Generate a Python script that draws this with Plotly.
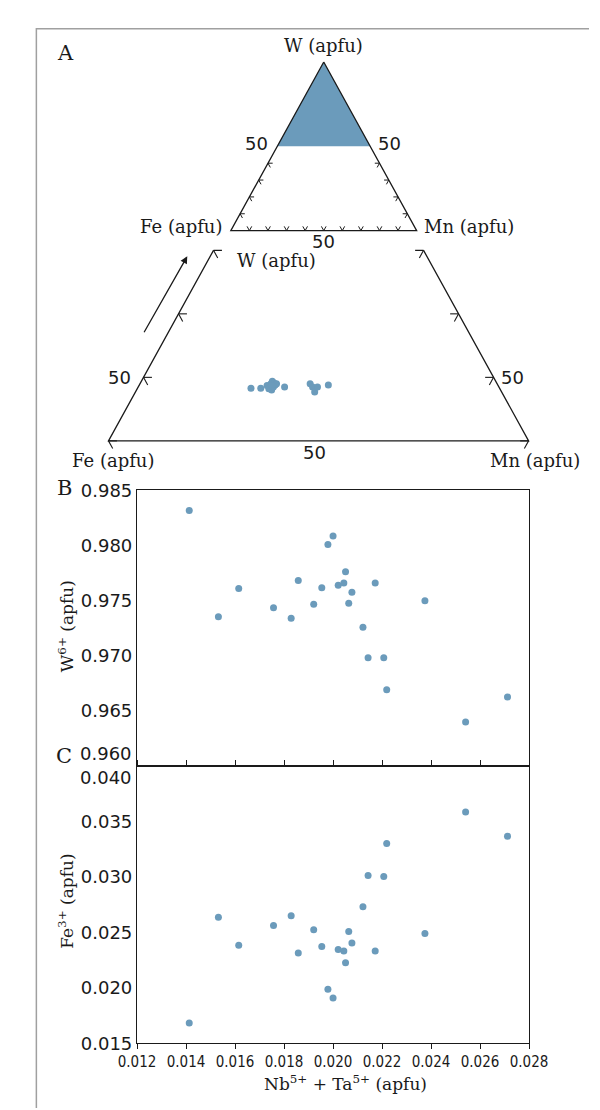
import numpy as np
import plotly.graph_objects as go

# ------------------------------------------------------------------ data
# Panel A (lower, enlarged ternary W-Fe-Mn, values in %)
tern_W  = [48.3, 48.3, 48.7, 48.2, 49.0, 48.0, 49.4, 48.5, 49.1, 48.8, 49.0, 48.7, 48.5, 49.0, 48.5, 47.7, 48.5, 48.8]
tern_Fe = [35.5, 34.1, 33.0, 33.0, 32.3, 32.7, 31.9, 32.2, 31.8, 31.8, 31.5, 32.3, 30.6, 26.7, 26.6, 26.7, 25.9, 24.2]
tern_Mn = [16.2, 17.6, 18.3, 18.8, 18.7, 19.3, 18.7, 19.3, 19.1, 19.4, 19.5, 19.0, 20.9, 24.3, 24.9, 25.6, 25.6, 27.0]

# ternary tick values (%)
top_side_ticks = [10, 20, 30, 40]
top_base_ticks = [10, 20, 30, 40, 50, 60, 70, 80, 90]
zoom_side_ticks = [40, 50, 60, 70]
zoom_w_min = 40     # lower edge of enlarged diagram (W %)
zoom_w_max = 70     # upper cut of enlarged diagram (W %)
shade_w_min = 50    # shaded field in the overview triangle

# Panels B and C
nbta = [0.01413, 0.01532, 0.01615, 0.01757, 0.01829, 0.01858, 0.01921, 0.01954, 0.01979, 0.02000,
        0.02021, 0.02044, 0.02051, 0.02064, 0.02077, 0.02122, 0.02143, 0.02172, 0.02207, 0.02219,
        0.02375, 0.02541, 0.02712]
w6 = [0.98317, 0.97355, 0.97610, 0.97435, 0.97340, 0.97683, 0.97468, 0.97618, 0.98009, 0.98086,
      0.97639, 0.97660, 0.97763, 0.97476, 0.97577, 0.97260, 0.96982, 0.97660, 0.96982, 0.96692,
      0.97500, 0.96399, 0.96627]
fe3 = [0.01683, 0.02636, 0.02385, 0.02562, 0.02651, 0.02314, 0.02524, 0.02373, 0.01988, 0.01908,
       0.02346, 0.02331, 0.02225, 0.02509, 0.02405, 0.02731, 0.03012, 0.02331, 0.03003, 0.03302,
       0.02491, 0.03586, 0.03367]

x_ticks = [0.012, 0.014, 0.016, 0.018, 0.020, 0.022, 0.024, 0.026, 0.028]
w6_ticks = [0.960, 0.965, 0.970, 0.975, 0.980, 0.985]
fe3_ticks = [0.015, 0.020, 0.025, 0.030, 0.035, 0.040]

# ------------------------------------------------------------------ style / layout constants
W_PX, H_PX = 600, 1110
BLUE = "#6b9bbb"
INK = "#1a1a1a"
SERIF = "DejaVu Serif"
SANS = "DejaVu Sans"
SQ3 = np.sqrt(3) / 2


def tern_xy(W, Fe, Mn, wmin=0.0):
    W, Fe, Mn = (np.asarray(v, dtype=float) for v in (W, Fe, Mn))
    s = W + Fe + Mn
    span = 100.0 - wmin
    a = (100 * W / s - wmin) / span
    c = (100 * Mn / s) / span
    return c + a / 2, a * SQ3


def segs(px, py, dirs, length):
    xs, ys = [], []
    for x0, y0 in zip(px, py):
        for dx, dy in dirs:
            xs += [x0, x0 + dx * length, None]
            ys += [y0, y0 + dy * length, None]
    return xs, ys


LEFT_DIRS = [(1, 0), (0.5, -SQ3)]
RIGHT_DIRS = [(-1, 0), (-0.5, -SQ3)]
BASE_DIRS = [(-0.5, SQ3), (0.5, SQ3)]


def frame_ranges(x0_px, y0_px, side_px, top_px, bot_px):
    xr = [(0 - x0_px) / side_px, (W_PX - x0_px) / side_px]
    yr = [(y0_px - bot_px) / side_px, (y0_px - top_px) / side_px]
    dom = [1 - bot_px / H_PX, 1 - top_px / H_PX]
    return xr, yr, dom


# overview triangle placement
T_X0, T_Y0, T_SIDE = 217.6, 215.7, 198.4
# enlarged diagram placement
Z_X0, Z_Y0, Z_SIDE = 87.0, 430.0, 448.5

fig = go.Figure()
line_style = dict(color=INK, width=1.3)

# ---- overview triangle (axes x / y)
fx, fy = tern_xy([100, shade_w_min, shade_w_min], [0, 100 - shade_w_min, 0], [0, 0, 100 - shade_w_min])
fig.add_trace(go.Scatter(x=list(fx) + [fx[0]], y=list(fy) + [fy[0]], fill="toself", fillcolor=BLUE,
                         mode="lines", line=dict(width=0, color=BLUE), xaxis="x", yaxis="y", hoverinfo="skip"))
ox, oy = tern_xy([100, 0, 0, 100], [0, 100, 0, 0], [0, 0, 100, 0])
fig.add_trace(go.Scatter(x=ox, y=oy, mode="lines", line=line_style, xaxis="x", yaxis="y", hoverinfo="skip"))
t_len = 5 / T_SIDE
lx, ly = tern_xy(top_side_ticks, [100 - v for v in top_side_ticks], [0] * len(top_side_ticks))
rx, ry = tern_xy(top_side_ticks, [0] * len(top_side_ticks), [100 - v for v in top_side_ticks])
bx, by = tern_xy([0] * len(top_base_ticks), [100 - v for v in top_base_ticks], top_base_ticks)
tx, ty = [], []
for (px_, py_), dirs in (((lx, ly), LEFT_DIRS), ((rx, ry), RIGHT_DIRS), ((bx, by), BASE_DIRS)):
    sx, sy = segs(px_, py_, dirs, t_len)
    tx += sx
    ty += sy
fig.add_trace(go.Scatter(x=tx, y=ty, mode="lines", line=dict(color=INK, width=1), xaxis="x", yaxis="y",
                         hoverinfo="skip"))

# ---- enlarged diagram (axes x2 / y2)
zx, zy = tern_xy([zoom_w_max, zoom_w_min, zoom_w_min, zoom_w_max],
                 [100 - zoom_w_max, 100 - zoom_w_min, 0, 0],
                 [0, 0, 100 - zoom_w_min, 100 - zoom_w_max], wmin=zoom_w_min)
fig.add_trace(go.Scatter(x=zx, y=zy, mode="lines", line=line_style, xaxis="x2", yaxis="y2", hoverinfo="skip"))
z_len = 9 / Z_SIDE
zlx, zly = tern_xy(zoom_side_ticks, [100 - v for v in zoom_side_ticks], [0] * 4, wmin=zoom_w_min)
zrx, zry = tern_xy(zoom_side_ticks, [0] * 4, [100 - v for v in zoom_side_ticks], wmin=zoom_w_min)
tx, ty = [], []
for (px_, py_), dirs in (((zlx, zly), LEFT_DIRS), ((zrx, zry), RIGHT_DIRS)):
    sx, sy = segs(px_, py_, dirs, z_len)
    tx += sx
    ty += sy
fig.add_trace(go.Scatter(x=tx, y=ty, mode="lines", line=dict(color=INK, width=1.1), xaxis="x2", yaxis="y2",
                         hoverinfo="skip"))
px_pts, py_pts = tern_xy(tern_W, tern_Fe, tern_Mn, wmin=zoom_w_min)
fig.add_trace(go.Scatter(x=px_pts, y=py_pts, mode="markers", marker=dict(size=7, color=BLUE),
                         xaxis="x2", yaxis="y2"))

# ---- panel B and C
fig.add_trace(go.Scatter(x=nbta, y=w6, mode="markers", marker=dict(size=7, color=BLUE), xaxis="x3", yaxis="y3"))
fig.add_trace(go.Scatter(x=nbta, y=fe3, mode="markers", marker=dict(size=7, color=BLUE), xaxis="x4", yaxis="y4"))

# ------------------------------------------------------------------ axes
txr, tyr, tdom = frame_ranges(T_X0, T_Y0, T_SIDE, 0, 240)
zxr, zyr, zdom = frame_ranges(Z_X0, Z_Y0, Z_SIDE, 220, 470)
hidden = dict(visible=False, showgrid=False, zeroline=False, fixedrange=True)

P_LEFT, P_RIGHT = 117.5, 536
B_TOP, BC_MID, C_BOT = 480.5, 761.5, 1044
xdom = [P_LEFT / W_PX, P_RIGHT / W_PX]

axis_common = dict(showline=True, linecolor=INK, linewidth=1.3, showgrid=False, zeroline=False,
                   tickcolor=INK, tickwidth=1.3, ticklen=5)

fig.update_layout(
    width=W_PX, height=H_PX, margin=dict(l=0, r=0, t=0, b=0),
    paper_bgcolor="white", plot_bgcolor="rgba(0,0,0,0)", showlegend=False,
    xaxis=dict(domain=[0, 1], range=txr, anchor="y", **hidden),
    yaxis=dict(domain=tdom, range=tyr, anchor="x", **hidden),
    xaxis2=dict(domain=[0, 1], range=zxr, anchor="y2", **hidden),
    yaxis2=dict(domain=zdom, range=zyr, anchor="x2", **hidden),
    xaxis3=dict(domain=xdom, range=[0.012, 0.028], anchor="y3", mirror=True, ticks="",
                showticklabels=False, **axis_common),
    yaxis3=dict(domain=[1 - BC_MID / H_PX, 1 - B_TOP / H_PX], range=[0.960, 0.985], anchor="x3", mirror=True,
                ticks="", tickvals=w6_ticks,
                ticktext=[""] + [f"{v:.3f}" for v in w6_ticks[1:]],
                tickfont=dict(family=SANS, size=18, color=INK), **axis_common),
    xaxis4=dict(domain=xdom, range=[0.012, 0.028], anchor="y4", mirror="ticks", ticks="outside",
                tickvals=x_ticks, ticktext=[f"{v:.3f}" for v in x_ticks],
                tickfont=dict(family="DejaVu Sans Condensed, DejaVu Sans", size=15, color=INK), **axis_common),
    yaxis4=dict(domain=[1 - C_BOT / H_PX, 1 - BC_MID / H_PX], range=[0.015, 0.040], anchor="x4", mirror=True,
                ticks="", tickvals=fe3_ticks,
                ticktext=[f"{v:.3f}" for v in fe3_ticks[:-1]] + [""],
                tickfont=dict(family=SANS, size=18, color=INK), **axis_common),
)


def P(px, py):
    return px / W_PX, 1 - py / H_PX


ann = []


def add_text(text, px, py, size=18, family=SERIF, xanchor="center", yanchor="middle", angle=0):
    x, y = P(px, py)
    ann.append(dict(text=text, x=x, y=y, xref="paper", yref="paper", showarrow=False, xanchor=xanchor,
                    yanchor=yanchor, textangle=angle, font=dict(family=family, size=size, color=INK)))


def add_data_text(text, x, y, ax, ay, xshift=0, yshift=0, xanchor="center", yanchor="middle",
                  size=18, family=SERIF):
    ann.append(dict(text=text, x=x, y=y, xref=ax, yref=ay, showarrow=False, xanchor=xanchor, yanchor=yanchor,
                    xshift=xshift, yshift=yshift, font=dict(family=family, size=size, color=INK)))


# panel letters
add_text("A", 41, 35, size=21)
add_text("B", 40, 478, size=21)
add_text("C", 40, 751, size=21)

# overview triangle labels
add_data_text("W (apfu)", 0.5, SQ3, "x", "y", yshift=4, yanchor="bottom")
add_data_text("Fe (apfu)", 0, 0, "x", "y", xshift=-7, yshift=4, xanchor="right")
add_data_text("Mn (apfu)", 1, 0, "x", "y", xshift=5, yshift=4, xanchor="left")
mx, my = tern_xy([50], [50], [0])
add_data_text("50", mx[0], my[0], "x", "y", xshift=-7, yshift=3, xanchor="right", family=SANS)
mx, my = tern_xy([50], [0], [50])
add_data_text("50", mx[0], my[0], "x", "y", xshift=6, yshift=3, xanchor="left", family=SANS)
mx, my = tern_xy([0], [50], [50])
add_data_text("50", mx[0], my[0], "x", "y", yshift=-11, family=SANS)

# enlarged diagram labels
cx, cy = tern_xy([zoom_w_max], [100 - zoom_w_max], [0], wmin=zoom_w_min)
add_data_text("W (apfu)", cx[0], cy[0], "x2", "y2", xshift=21, yshift=-10, xanchor="left")
add_data_text("Fe (apfu)", 0, 0, "x2", "y2", xshift=5, yshift=-20)
add_data_text("Mn (apfu)", 1, 0, "x2", "y2", xshift=6, yshift=-20)
mx, my = tern_xy([50], [50], [0], wmin=zoom_w_min)
add_data_text("50", mx[0], my[0], "x2", "y2", xshift=-11, yshift=0, xanchor="right", family=SANS)
mx, my = tern_xy([50], [0], [50], wmin=zoom_w_min)
add_data_text("50", mx[0], my[0], "x2", "y2", xshift=5, yshift=0, xanchor="left", family=SANS)
add_data_text("50", 0.5, 0, "x2", "y2", xshift=-4, yshift=-12, family=SANS)

# direction arrow along the W edge
hx, hy = tern_xy([zoom_w_max], [100 - zoom_w_max], [0], wmin=zoom_w_min)
ann.append(dict(x=hx[0] - 28 / Z_SIDE, y=hy[0] - 6 / Z_SIDE, xref="x2", yref="y2",
                ax=hx[0] - 75 / Z_SIDE, ay=hy[0] - 85 / Z_SIDE, axref="x2", ayref="y2",
                showarrow=True, arrowhead=2, arrowsize=1.1, arrowwidth=1.3, arrowcolor=INK, text=""))

# boundary tick labels (shifted apart as in the original)
add_text("0.960", 114, 749, size=18, family=SANS, xanchor="right")
add_text("0.040", 114, 773, size=18, family=SANS, xanchor="right")

# axis titles
add_text("W<sup>6+</sup> (apfu)", 41.5, 619, size=17, angle=-90)
add_text("Fe<sup>3+</sup> (apfu)", 41.5, 899, size=17, angle=-90)
add_text("Nb<sup>5+</sup> + Ta<sup>5+</sup> (apfu)", 340, 1085, size=17)

fig.update_layout(annotations=ann)

# outer panel frame (left and top)
fig.add_shape(type="path", xref="paper", yref="paper",
              path=f"M {P(600, 10)[0]} {P(600, 10)[1]} L {P(10, 10)[0]} {P(10, 10)[1]} L {P(10, 1110)[0]} {P(10, 1110)[1]}",
              line=dict(color="#a0a0a0", width=1.5))

fig.write_html("out.html")
